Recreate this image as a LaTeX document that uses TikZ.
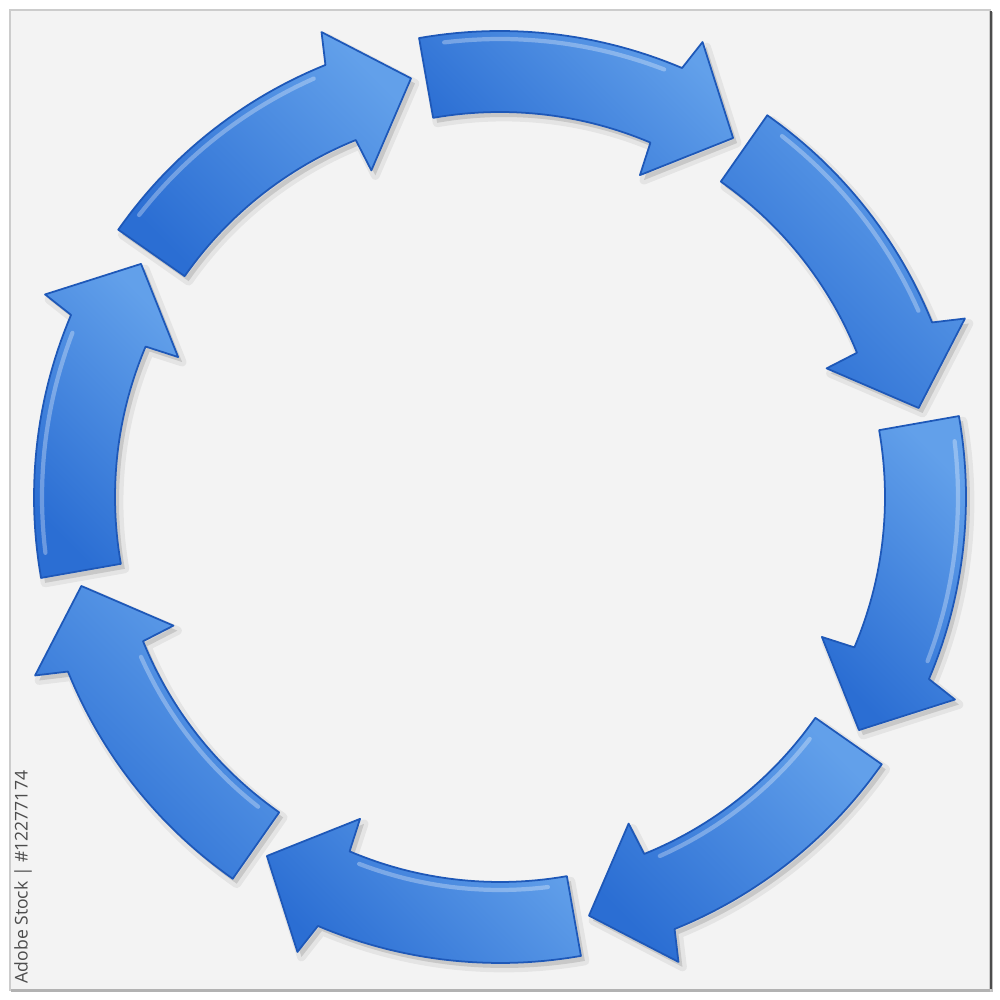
\documentclass[tikz,border=0pt]{standalone}
\usepackage{fontspec}
\setsansfont{Open Sans}
\definecolor{panel}{HTML}{F3F3F3}
\definecolor{blueL}{HTML}{62A0EA}
\definecolor{blueM}{HTML}{3E85DD}
\definecolor{blueD}{HTML}{2B6ED3}
\definecolor{blueE}{HTML}{1E58B8}
\newcommand\cyclearrow[1]{%
  plot[domain=#1:#1-33, samples=30] (\x:466) -- (#1-34:498) -- (#1-43:428) --
  (#1-33.5:351) -- plot[domain=#1-33:#1, samples=30] (\x:385) -- cycle}
\tikzset{
  arrowbody/.style={shading=axis, top color=blueL, middle color=blueM, bottom color=blueD,
    shading angle=-45, draw=blueE, line width=0.5pt, line join=round},
  arrowshadow/.style={fill=black, fill opacity=0.12, draw=black, draw opacity=0.06,
    line width=2.5pt, line join=round},
  gloss/.style={white, opacity=0.3, line width=1.2pt, line cap=round},
}
\begin{document}
\begin{tikzpicture}[x=0.01cm,y=0.01cm]
\useasboundingbox (0,0) rectangle (1000,1000);
\fill[white] (0,0) rectangle (1000,1000);
% panel
\fill[black!25] (12,8) rectangle (993,988);
\fill[panel] (10,10) rectangle (990,990);
\draw[black!20, line width=0.4pt] (10,10) rectangle (990,990);
\draw[black!70, line width=0.7pt] (991,11) -- (991,989);
\draw[black!30, line width=0.8pt] (11,9.5) -- (990,9.5);
% arrows
\begin{scope}[shift={(500,503)}]
  \foreach \t in {100,55,10,-35,-80,-125,-170,-215} {
    \path[arrowshadow, shift={(4,-5)}] \cyclearrow{\t};
  }
  \foreach \t in {100,55,10,-170,-215} {
    \path[arrowbody] \cyclearrow{\t};
    \draw[gloss] plot[domain=\t-3:\t-31, samples=25] (\x:458);
  }
  \foreach \t in {-35,-80,-125} {
    \path[arrowbody] \cyclearrow{\t};
    \draw[gloss] plot[domain=\t-3:\t-31, samples=25] (\x:393);
  }
\end{scope}
% id text
\node[rotate=90, anchor=west, inner sep=0pt, text=black!70,
  font=\sffamily\fontsize{5}{6}\selectfont] (stockid) at (23,16) {Adobe Stock | \#12277174};
\end{tikzpicture}
\end{document}
